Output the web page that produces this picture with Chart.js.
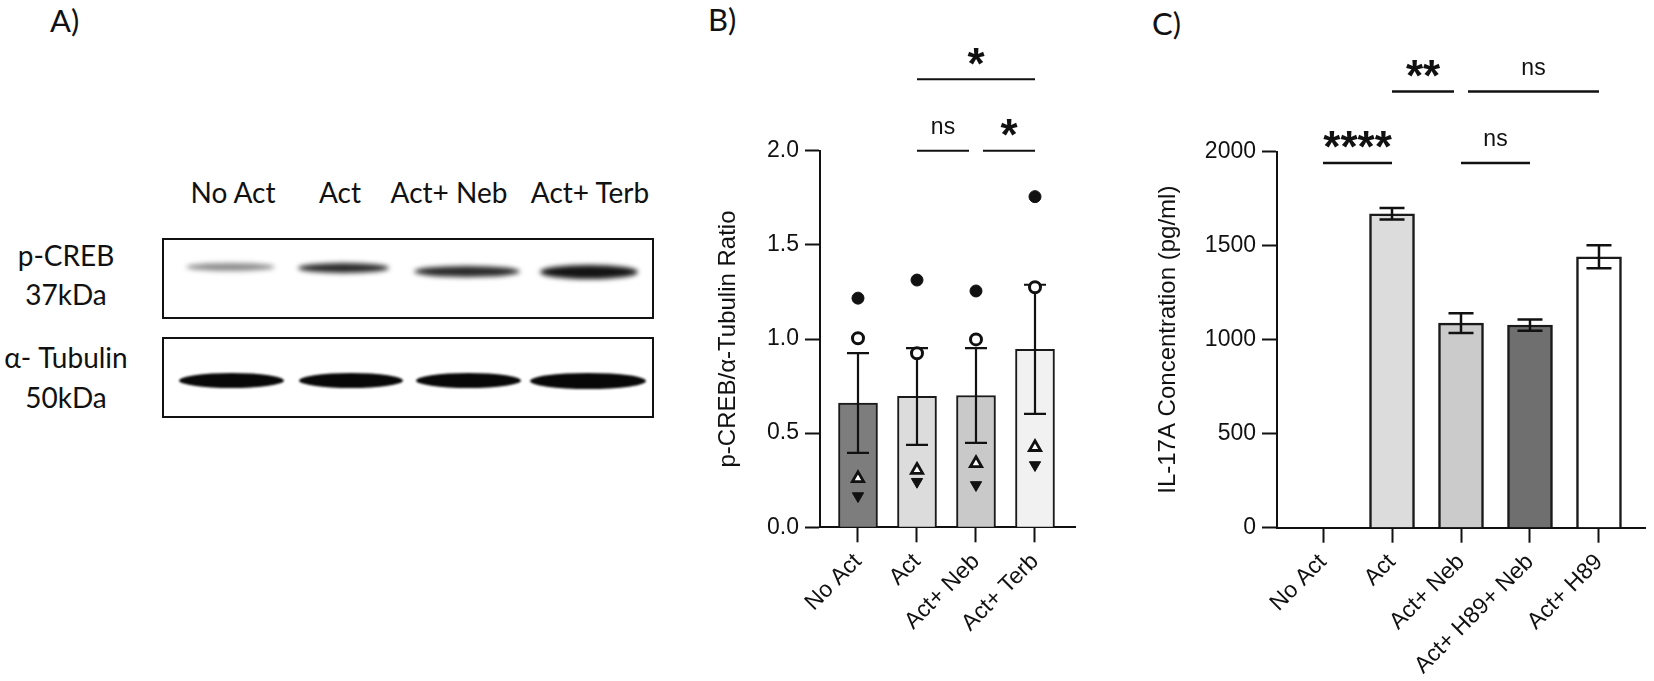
<!DOCTYPE html>
<html>
<head>
<meta charset="utf-8">
<script src="https://cdn.jsdelivr.net/npm/chart.js@4.4.1/dist/chart.umd.min.js"></script>
<style>
  body { margin: 0; background: #fff; }
  #page { position: relative; width: 1654px; height: 681px; overflow: hidden; background: #fff; font-family: Lato, sans-serif; color: #111; }
  .lbl { position: absolute; font-size: 28px; line-height: 1; white-space: nowrap; transform: translateX(-50%); }
  .panel { position: absolute; font-size: 31px; line-height: 1; }
  .blot { position: absolute; border: 2.5px solid #111; box-sizing: border-box; background: #fff; }
  .band { position: absolute; border-radius: 50%; }
  .creb { filter: blur(2.5px); }
  .tub { top: 373px; height: 15px; background: #080808; filter: blur(1.2px); }
  canvas { position: absolute; top: 0; }
</style>
</head>
<body>
<div id="page">
  <div class="panel" style="left:50px; top:5px;">A)</div>
  <div class="panel" style="left:708px; top:4px;">B)</div>
  <div class="panel" style="left:1152px; top:8px;">C)</div>

  <!-- panel A: blot -->
  <div class="lbl" style="left:233px; top:178px;">No Act</div>
  <div class="lbl" style="left:340px; top:178px;">Act</div>
  <div class="lbl" style="left:449px; top:178px;">Act+ Neb</div>
  <div class="lbl" style="left:590px; top:178px;">Act+ Terb</div>
  <div class="lbl" style="left:66px; top:241px;">p-CREB</div>
  <div class="lbl" style="left:66px; top:280px;">37kDa</div>
  <div class="lbl" style="left:66px; top:343px;">α- Tubulin</div>
  <div class="lbl" style="left:66px; top:383px;">50kDa</div>

  <div class="blot" style="left:162px; top:238px; width:492px; height:81px;"></div>
  <div class="blot" style="left:162px; top:337px; width:492px; height:81px;"></div>

  <div class="band creb" style="left:186px; top:263px; width:89px; height:8px; background:rgba(30,30,30,0.5);"></div>
  <div class="band creb" style="left:298px; top:263px; width:91px; height:10px; background:#2a2a2a;"></div>
  <div class="band creb" style="left:414px; top:266px; width:106px; height:11px; background:#2a2a2a;"></div>
  <div class="band creb" style="left:540px; top:265px; width:98px; height:14px; background:#141414;"></div>

  <div class="band tub" style="left:179px; width:105px;"></div>
  <div class="band tub" style="left:299px; width:104px;"></div>
  <div class="band tub" style="left:416px; width:105px;"></div>
  <div class="band tub" style="left:530px; width:116px; height:16px;"></div>

  <canvas id="chartB" width="440" height="681" style="left:660px;"></canvas>
  <canvas id="chartC" width="564" height="681" style="left:1090px;"></canvas>
</div>

<script>
// panel B: p-CREB / alpha-tubulin ratio
const labelsB = ['No Act', 'Act', 'Act+ Neb', 'Act+ Terb']
const meanB = [0.66, 0.695, 0.70, 0.945]
const semB = [0.265, 0.257, 0.252, 0.343]
const filledCircleB = [1.217, 1.313, 1.255, 1.756]
const openCircleB = [1.004, 0.924, 0.998, 1.275]
const openTriangleB = [0.26, 0.304, 0.34, 0.425]
const filledTriangleB = [0.166, 0.242, 0.225, 0.331]
const yTicksB = [0, 0.5, 1.0, 1.5, 2.0]
const sigFromB = [1, 2, 1]
const sigToB = [2, 3, 3]
const sigLevelB = [2.0, 2.0, 2.38]
const sigTextB = ['ns', '*', '*']

// panel C: IL-17A
const labelsC = ['No Act', 'Act', 'Act+ Neb', 'Act+ H89+ Neb', 'Act+ H89']
const meanC = [0, 1670, 1088, 1078, 1441]
const semC = [0, 30, 53, 30, 61]
const yTicksC = [0, 500, 1000, 1500, 2000]
const sigFromC = [0, 2, 1, 2]
const sigToC = [1, 3, 2, 4]
const sigLevelC = [1940, 1940, 2320, 2320]
const sigTextC = ['****', 'ns', '**', 'ns']

const barColorsB = ['#7d7d7d', '#dcdcdc', '#c9c9c9', '#f1f1f1']
const barColorsC = ['#ffffff', '#dcdcdc', '#cbcbcb', '#6f6f6f', '#ffffff']

const FONT = "'Liberation Sans', Arial, sans-serif"
const INK = '#111'
Chart.defaults.font.family = FONT
Chart.defaults.color = INK

function xy(values) {
    return values.map((v, i) => ({ x: i, y: v }))
}

function errorBars(means, sems, capHalf, lineWidth) {
    return {
        id: 'errorBars',
        afterDatasetDraw(chart, args) {
            if (args.index !== 0) return
            const { ctx, scales: { x, y } } = chart
            ctx.save()
            ctx.strokeStyle = INK
            ctx.lineWidth = lineWidth
            means.forEach((m, i) => {
                if (!sems[i]) return
                const px = x.getPixelForValue(i)
                const top = y.getPixelForValue(m + sems[i])
                const bot = y.getPixelForValue(m - sems[i])
                ctx.beginPath()
                ctx.moveTo(px, top); ctx.lineTo(px, bot)
                ctx.moveTo(px - capHalf, top); ctx.lineTo(px + capHalf, top)
                ctx.moveTo(px - capHalf, bot); ctx.lineTo(px + capHalf, bot)
                ctx.stroke()
            })
            ctx.restore()
        }
    }
}

function significance(from, to, level, text, lineWidth) {
    return {
        id: 'significance',
        afterDraw(chart) {
            const { ctx, scales: { x, y } } = chart
            ctx.save()
            ctx.strokeStyle = INK
            ctx.fillStyle = INK
            ctx.lineWidth = lineWidth
            from.forEach((f, i) => {
                // brackets sharing an end at the same height leave a small gap
                const shared = idx => from.some((g, j) => j !== i && level[j] === level[i] && (g === idx || to[j] === idx))
                let x1 = x.getPixelForValue(f)
                let x2 = x.getPixelForValue(to[i])
                if (shared(f)) x1 += 7
                if (shared(to[i])) x2 -= 7
                const py = y.getPixelForValue(level[i])
                ctx.beginPath()
                ctx.moveTo(x1, py); ctx.lineTo(x2, py)
                ctx.stroke()

                ctx.font = text[i] === 'ns' ? '23px ' + FONT : 'bold 44px ' + FONT
                ctx.textAlign = 'center'
                ctx.textBaseline = 'alphabetic'
                const m = ctx.measureText(text[i])
                const cy = py - 23
                ctx.fillText(text[i], (x1 + x2) / 2, cy + (m.actualBoundingBoxAscent - m.actualBoundingBoxDescent) / 2)
            })
            ctx.restore()
        }
    }
}

function axisOptions(extra) {
    return Object.assign({
        grid: { display: true, drawOnChartArea: false, drawTicks: true, tickLength: 15, tickWidth: 2, tickColor: INK, offset: false },
        border: { display: true, color: INK, width: 2 },
    }, extra)
}

function barChart(canvasId, cfg) {
    new Chart(document.getElementById(canvasId), {
        type: 'bar',
        data: { datasets: cfg.datasets },
        options: {
            responsive: false,
            animation: false,
            layout: { padding: cfg.padding },
            plugins: { legend: { display: false }, tooltip: { enabled: false } },
            scales: {
                x: axisOptions({
                    type: 'linear',
                    bounds: 'data',
                    offset: false,
                    min: cfg.xMin,
                    max: cfg.xMax,
                    afterBuildTicks: s => { s.ticks = cfg.labels.map((_, i) => ({ value: i })) },
                    afterFit: s => { s.height = cfg.xHeight },
                    ticks: {
                        callback: v => cfg.labels[v],
                        autoSkip: false,
                        minRotation: 45,
                        maxRotation: 45,
                        padding: 6,
                        color: INK,
                        font: { size: 23 }
                    }
                }),
                y: axisOptions({
                    min: cfg.yTicks[0],
                    max: cfg.yTicks[cfg.yTicks.length - 1],
                    afterBuildTicks: s => { s.ticks = cfg.yTicks.map(v => ({ value: v })) },
                    afterFit: s => { s.width = cfg.yWidth },
                    ticks: { callback: cfg.yFormat, padding: 6, color: INK, font: { size: 23 } },
                    title: { display: true, text: cfg.yTitle, color: INK, font: { size: 24 }, padding: { top: 4, bottom: 4 } }
                })
            }
        },
        plugins: cfg.plugins
    })
}

barChart('chartB', {
    labels: labelsB,
    yTicks: yTicksB,
    yFormat: v => v.toFixed(1),
    yTitle: 'p-CREB/α-Tubulin Ratio',
    xMin: -0.644, xMax: 3.678,
    padding: { left: 50, top: 150.7, right: 25, bottom: 0 },
    yWidth: 110,
    xHeight: 153.7,
    datasets: [
        { type: 'bar', data: xy(meanB), backgroundColor: barColorsB, borderColor: '#1a1a1a', borderWidth: 2, barThickness: 39, order: 1 },
        { type: 'scatter', data: xy(filledCircleB), pointStyle: 'circle', pointRadius: 6, backgroundColor: INK, borderColor: INK, borderWidth: 1, order: 0 },
        { type: 'scatter', data: xy(openCircleB), pointStyle: 'circle', pointRadius: 5.5, backgroundColor: '#fff', borderColor: INK, borderWidth: 3, order: 0 },
        { type: 'scatter', data: xy(openTriangleB), pointStyle: 'triangle', pointRadius: 6.5, backgroundColor: '#fff', borderColor: INK, borderWidth: 2.8, order: 0 },
        { type: 'scatter', data: xy(filledTriangleB), pointStyle: 'triangle', pointRotation: 180, pointRadius: 6.5, backgroundColor: INK, borderColor: INK, borderWidth: 1, order: 0 }
    ],
    plugins: [errorBars(meanB, semB, 11, 2.2), significance(sigFromB, sigToB, sigLevelB, sigTextB, 2)]
})

barChart('chartC', {
    labels: labelsC,
    yTicks: yTicksC,
    yFormat: v => String(v),
    yTitle: 'IL-17A Concentration (pg/ml)',
    xMin: -0.667, xMax: 4.667,
    padding: { left: 60, top: 151.7, right: 9, bottom: 0 },
    yWidth: 127,
    xHeight: 153.3,
    datasets: [
        { type: 'bar', data: xy(meanC), backgroundColor: barColorsC, borderColor: '#1a1a1a', borderWidth: 2.5, barThickness: 45, order: 1 }
    ],
    plugins: [errorBars(meanC, semC, 12.5, 2.5), significance(sigFromC, sigToC, sigLevelC, sigTextC, 2.5)]
})
</script>
</body>
</html>
